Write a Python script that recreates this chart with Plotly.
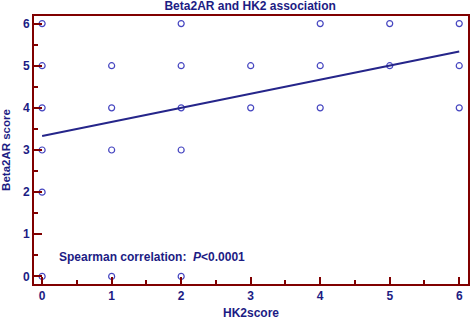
import plotly.graph_objects as go

# Data
hk2_score = [0, 0, 0, 0, 0, 0,
             1, 1, 1, 1,
             2, 2, 2, 2, 2,
             3, 3,
             4, 4, 4,
             5, 5,
             6, 6, 6]
beta2ar_score = [6, 5, 4, 3, 2, 0,
                 5, 4, 3, 0,
                 6, 5, 4, 3, 0,
                 5, 4,
                 6, 5, 4,
                 6, 5,
                 6, 5, 4]
fit_x = [0, 6]
fit_y = [3.33, 5.34]
tick_vals = [0, 1, 2, 3, 4, 5, 6]

NAVY = "#1c1c84"
AXIS = "#800000"
FONT = "Liberation Sans"

fig = go.Figure()
fig.add_trace(go.Scatter(
    x=hk2_score, y=beta2ar_score, mode="markers",
    marker=dict(symbol="circle-open", size=6, color="#4646c0",
                line=dict(width=1.2, color="#4646c0")),
    showlegend=False, hoverinfo="skip"))
fig.add_trace(go.Scatter(
    x=fit_x, y=fit_y, mode="lines",
    line=dict(color="#25258a", width=2),
    showlegend=False, hoverinfo="skip"))

axis_common = dict(
    showgrid=False, zeroline=False, showline=True, linecolor=AXIS,
    linewidth=2, mirror=True, ticks="inside", tickcolor=AXIS,
    tickwidth=2, tickmode="array", tickvals=tick_vals,
    tickfont=dict(family=FONT, size=12, color=NAVY, weight="bold"),
    minor=dict(ticks="inside", ticklen=4, tickwidth=2, tickcolor=AXIS, dtick=0.5, showgrid=False),
)

fig.update_layout(
    width=472, height=320,
    margin=dict(l=34, r=2, t=16, b=33),
    paper_bgcolor="white", plot_bgcolor="white",
    title=dict(text="<b>Beta2AR and HK2 association</b>", x=0.53, xanchor="center",
               y=0.982, yanchor="middle",
               font=dict(family=FONT, size=12, color=NAVY)),
    xaxis=dict(range=[-0.117, 6.126], ticklen=7,
               title=dict(text="<b>HK2score</b>", standoff=6,
                          font=dict(family=FONT, size=12, color=NAVY)),
               **axis_common),
    yaxis=dict(range=[-0.18, 6.18], ticklen=8,
               title=dict(text="<b>Beta2AR score</b>", standoff=10,
                          font=dict(family=FONT, size=11.5, color=NAVY, weight="bold")),
               **axis_common),
)

fig.add_annotation(
    x=0.054, y=0.47, xref="paper", yref="y", xanchor="left", yanchor="middle",
    text="<b>Spearman correlation:  <i>P</i><0.0001</b>", showarrow=False,
    font=dict(family=FONT, size=12, color=NAVY))

fig.write_html("out.html", config={"displayModeBar": False},
               post_script="document.body.style.margin='0';")
